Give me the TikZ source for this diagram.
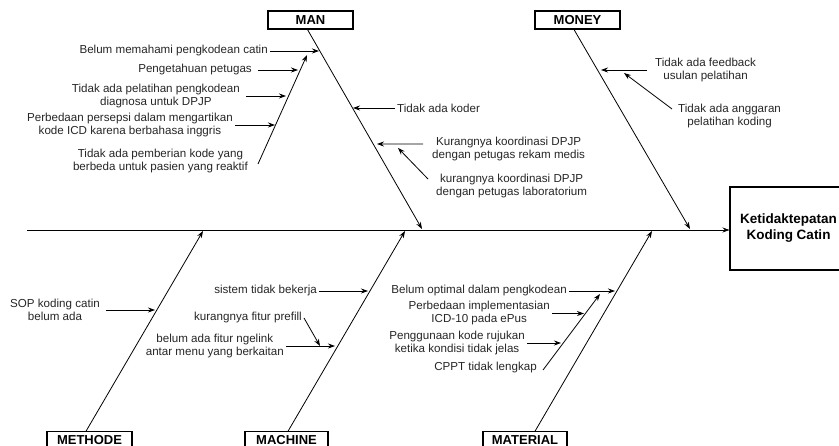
\documentclass[tikz,border=0pt]{standalone}
\usepackage{fontspec}
\setmainfont{Liberation Sans}
\usetikzlibrary{arrows.meta}
\begin{document}
\begin{tikzpicture}[x=1bp,y=-1bp,
  lbl/.style={font=\fontsize{11.6bp}{13bp}\selectfont, inner sep=2bp, align=center, text=black!85},
  catbox/.style={draw, line width=1.1bp, font=\bfseries\fontsize{13bp}{15bp}\selectfont, minimum height=18bp, inner sep=0pt},
  arr/.style={-{Stealth[length=7bp,width=5bp]}, line width=0.8bp},
  ln/.style={line width=0.8bp}]
\useasboundingbox (0,0) rectangle (839,446);

% category boxes
\node[catbox, minimum width=85bp] (man) at (310.5,20) {MAN};
\node[catbox, minimum width=85bp] (money) at (577.5,20) {MONEY};
\node[catbox, minimum width=85bp, minimum height=17bp] (methode) at (89.5,440.3) {METHODE};
\node[catbox, minimum width=83bp, minimum height=17bp] (machine) at (286.5,440.3) {MACHINE};
\node[catbox, minimum width=84bp, minimum height=17bp] (material) at (525,440.3) {MATERIAL};
\node[draw, line width=1.1bp, minimum width=117bp, minimum height=83bp, align=center,
      font=\bfseries\fontsize{13.5bp}{16bp}\selectfont] (effect) at (788.5,228.5) {Ketidaktepatan\\Koding Catin};

% main line
\coordinate (tail) at (27,230);
\draw[arr] (tail) -- (tail -| effect.west);

% spines
\coordinate (manT) at (422,229);
\coordinate (moneyT) at (690,229);
\coordinate (methodeT) at (203,231);
\coordinate (machineT) at (405,231);
\coordinate (materialT) at (652,231);
\draw[arr] ([xshift=-3bp]man.south) -- (manT);
\draw[arr] ([xshift=-3.5bp]money.south) -- (moneyT);
\draw[arr] ([xshift=-3.5bp]methode.north) -- (methodeT);
\draw[arr] ([xshift=1.5bp]machine.north) -- (machineT);
\draw[arr] ([xshift=10bp]material.north) -- (materialT);

% MAN left side
\coordinate (mb0) at (258,164);
\coordinate (mb1) at (307,55);
\draw[arr] (mb0) -- (mb1);
\node[lbl, anchor=east] (t1) at (270,51) {Belum memahami pengkodean catin};
\coordinate (p1) at (319,51);
\draw[arr] (t1.east) -- (p1);
\node[lbl, anchor=east] (t2) at (254,70) {Pengetahuan petugas};
\coordinate (p2) at (298,70);
\draw[arr] ([xshift=4bp]t2.east) -- (p2);
\node[lbl, anchor=east] (t3) at (242,96) {Tidak ada pelatihan pengkodean\\diagnosa untuk DPJP};
\coordinate (p3) at (286,96);
\draw[arr] ([xshift=4bp]t3.east) -- (p3);
\node[lbl, anchor=east] (t4) at (235,125) {Perbedaan persepsi dalam mengartikan\\kode ICD karena berbahasa inggris};
\coordinate (p4) at (275,125);
\draw[arr] (t4.east) -- (p4);
\node[lbl, anchor=east] (t5) at (250,161) {Tidak ada pemberian kode yang\\berbeda untuk pasien yang reaktif};

% MAN right side
\node[lbl, anchor=west] (t6) at (395,108) {Tidak ada koder};
\coordinate (p6) at (353,108);
\draw[arr] (t6.west) -- (p6);
\node[lbl, anchor=west] (t7) at (430,149.5) {Kurangnya koordinasi DPJP\\dengan petugas rekam medis};
\coordinate (p7) at (377,144);
\draw[arr] ([xshift=-7bp,yshift=5.5bp]t7.west) -- (p7);
\node[lbl, anchor=west] (t8) at (434,186.5) {kurangnya koordinasi DPJP\\dengan petugas laboratorium};
\coordinate (p8) at (398,148);
\draw[arr] ([xshift=-6bp,yshift=7.5bp]t8.west) -- (p8);

% MONEY
\node[lbl, anchor=west] (t9) at (653,70) {Tidak ada feedback\\usulan pelatihan};
\coordinate (p9) at (601,70);
\draw[arr] ([xshift=-6bp]t9.west) -- (p9);
\node[lbl, anchor=west] (t10) at (676,116.5) {Tidak ada anggaran\\pelatihan koding};
\coordinate (p10) at (624,73);
\draw[arr] ([xshift=-4bp,yshift=7.5bp]t10.west) -- (p10);

% METHODE
\node[lbl, anchor=east] (t11) at (102,310) {SOP koding catin\\belum ada};
\coordinate (p11) at (155,310);
\draw[arr] ([xshift=4bp]t11.east) -- (p11);

% MACHINE
\node[lbl, anchor=east] (t12) at (319,291) {sistem tidak bekerja};
\coordinate (p12) at (368,291);
\draw[arr] (t12.east) -- (p12);
\node[lbl, anchor=east] (t13) at (304,318) {kurangnya fitur prefill};
\node[lbl, anchor=east] (t14) at (286,346) {belum ada fitur ngelink\\antar menu yang berkaitan};
\coordinate (p14) at (335,346);
\coordinate (p13) at (320,346);
\draw[arr] (t14.east) -- (p14);
\draw[arr] (t13.east) -- (p13);

% MATERIAL
\coordinate (sb0) at (543,370);
\coordinate (sb1) at (600,294);
\draw[arr] (sb0) -- (sb1);
\node[lbl, anchor=east] (t15) at (569,291) {Belum optimal dalam pengkodean};
\coordinate (p15) at (615,291);
\draw[arr] (t15.east) -- (p15);
\node[lbl, anchor=east] (t16) at (552,313.5) {Perbedaan implementasian\\ICD-10 pada ePus};
\coordinate (p16) at (584,313.5);
\draw[arr] (t16.east) -- (p16);
\node[lbl, anchor=east] (t17) at (527,343) {Penggunaan kode rujukan\\ketika kondisi tidak jelas};
\coordinate (p17) at (561,343);
\draw[arr] (t17.east) -- (p17);
\node[lbl, anchor=east] (t18) at (539,368) {CPPT tidak lengkap};
\end{tikzpicture}
\end{document}
